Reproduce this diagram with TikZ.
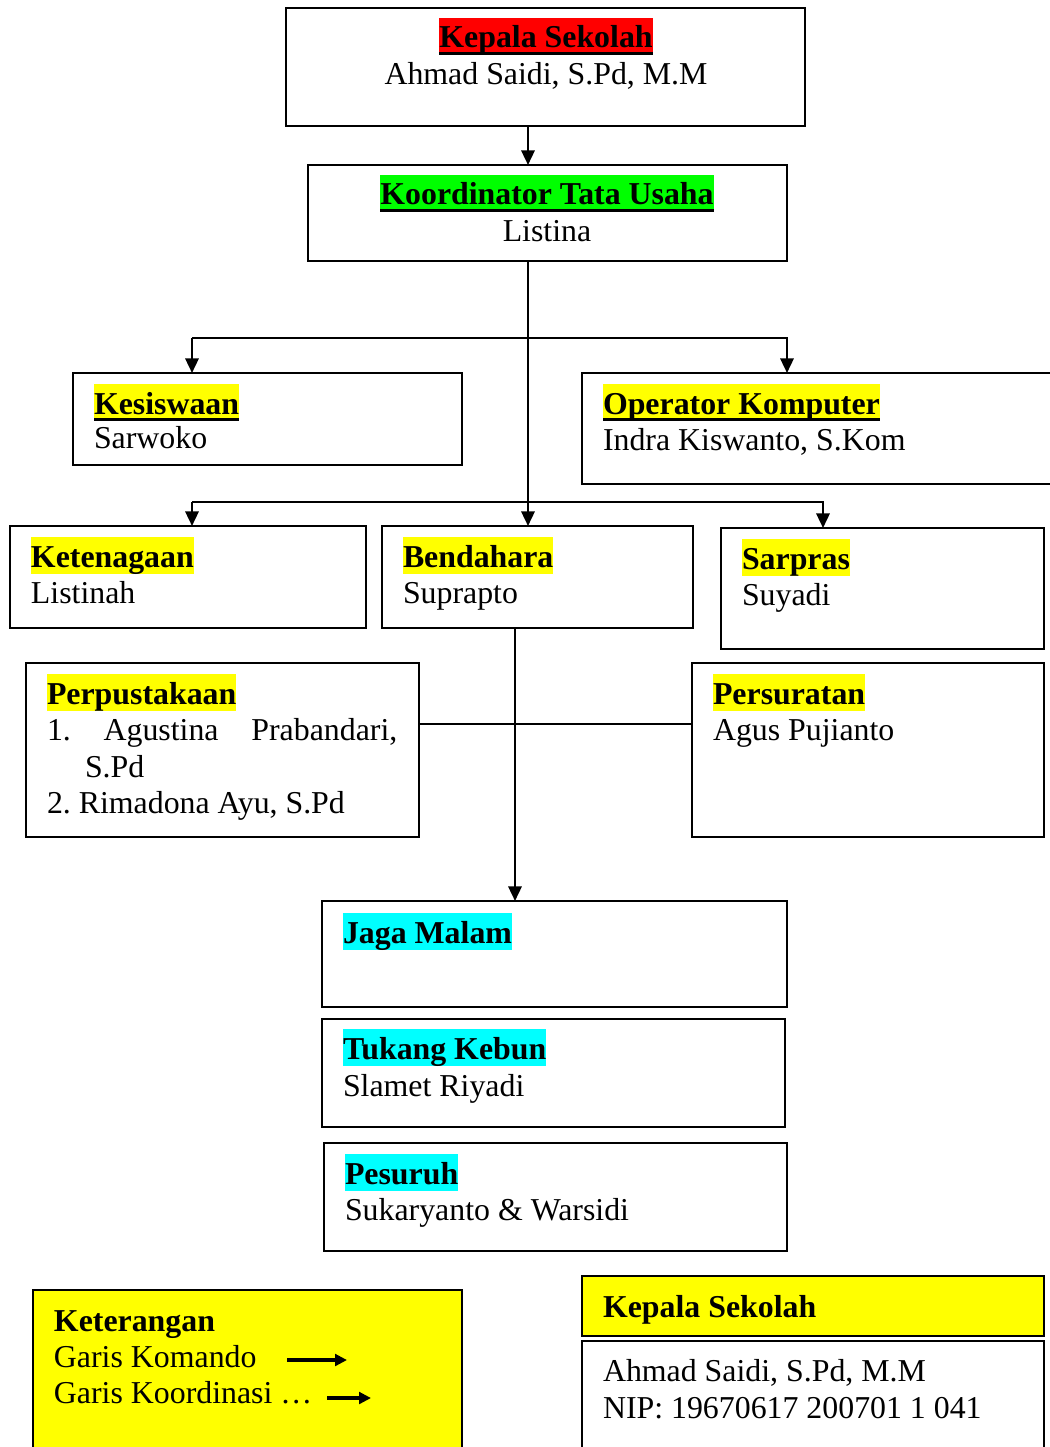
\documentclass[tikz,border=0pt]{standalone}
\usepackage{fontspec}
\setmainfont{Liberation Serif}
\usetikzlibrary{arrows.meta}
\definecolor{hlred}{RGB}{255,0,0}
\definecolor{hlgreen}{RGB}{0,255,0}
\definecolor{hlyellow}{RGB}{255,255,0}
\definecolor{hlcyan}{RGB}{0,255,255}
\newcommand\pxu{0.3768pt}
\newcommand\hlt[2]{{\setlength{\fboxsep}{0pt}\colorbox{#1}{\rule[-2.8pt]{0pt}{14pt}#2}}}
\newcommand\hltu[2]{{\setlength{\fboxsep}{0pt}\sbox0{#2}\colorbox{#1}{\rule[-2.8pt]{0pt}{14pt}\rlap{\rule[-2.8pt]{\wd0}{1.3pt}}\usebox0}}}
\newcommand\mkbox[6]{\node[bx, fill=#6, minimum width={(#4-#2)*\pxu}, minimum height={(#5-#3)*\pxu}] (#1) at (#2,#3) {};}
\tikzset{
  bx/.style={draw, line width=0.8pt, rectangle, anchor=north west, inner sep=0pt, outer sep=0pt},
  txt/.style={anchor=base west, inner sep=0pt, outer sep=0pt, font=\fontsize{12}{13.8}\selectfont\frenchspacing},
  ctxt/.style={txt, anchor=base},
  arr/.style={line width=0.9pt, -{Triangle[length=5.5pt,width=5pt]}},
  ln/.style={line width=0.9pt},
  legarr/.style={line width=1.2pt, -{Triangle[length=4.5pt,width=4.4pt]}},
}
\begin{document}
\begin{tikzpicture}[x=0.3768pt, y=-0.3768pt]
\useasboundingbox (0,0) rectangle (1049,1447);
\fill[white] (0,0) rectangle (1049,1447);
% boxes
\mkbox{kepala}{286}{8}{805}{126}{white}
\mkbox{koord}{308}{165}{787}{261}{white}
\mkbox{kes}{73}{373}{462}{465}{white}
\mkbox{op}{582}{373}{1062}{484}{white}
\mkbox{keten}{10}{526}{366}{628}{white}
\mkbox{bend}{382}{526}{693}{628}{white}
\mkbox{sarp}{721}{528}{1044}{649}{white}
\mkbox{perp}{26}{663}{419}{837}{white}
\mkbox{pers}{692}{663}{1044}{837}{white}
\mkbox{jaga}{322}{901}{787}{1007}{white}
\mkbox{tukang}{322}{1019}{785}{1127}{white}
\mkbox{pesuruh}{324}{1143}{787}{1251}{white}
\mkbox{ket}{33}{1290}{462}{1462}{hlyellow}
\mkbox{ksign}{582}{1276}{1044}{1336}{hlyellow}
\mkbox{nsign}{582}{1341}{1044}{1462}{white}
% texts
\node[ctxt] (t1) at (546,48) {\hltu{hlred}{\textbf{Kepala Sekolah}}};
\node[ctxt] (t2) at (546,85) {Ahmad Saidi, S.Pd, M.M};
\node[ctxt] (t3) at (547,205) {\hltu{hlgreen}{\textbf{Koordinator Tata Usaha}}};
\node[ctxt] (t4) at (547,242) {Listina};
\node[txt] (t5) at (94,414) {\hltu{hlyellow}{\textbf{Kesiswaan}}};
\node[txt] (t6) at (94,448) {Sarwoko};
\node[txt] (t7) at (603,414) {\hltu{hlyellow}{\textbf{Operator Komputer}}};
\node[txt] (t8) at (603,450) {Indra Kiswanto, S.Kom};
\node[txt] (t9) at (31,567) {\hlt{hlyellow}{\textbf{Ketenagaan}}};
\node[txt] (t10) at (31,603) {Listinah};
\node[txt] (t11) at (403,567) {\hlt{hlyellow}{\textbf{Bendahara}}};
\node[txt] (t12) at (403,603) {Suprapto};
\node[txt] (t13) at (742,569) {\hlt{hlyellow}{\textbf{Sarpras}}};
\node[txt] (t14) at (742,605) {Suyadi};
\node[txt] (t15) at (47,704) {\hlt{hlyellow}{\textbf{Perpustakaan}}};
\node[txt] (t16) at (47,740) {\hbox to 132pt{1.\hfill Agustina\hfill Prabandari,}};
\node[txt] (t17) at (85,777) {S.Pd};
\node[txt] (t18) at (47,813) {2. Rimadona Ayu, S.Pd};
\node[txt] (t19) at (713,704) {\hlt{hlyellow}{\textbf{Persuratan}}};
\node[txt] (t20) at (713,740) {Agus Pujianto};
\node[txt] (t21) at (343,943) {\hlt{hlcyan}{\textbf{Jaga Malam}}};
\node[txt] (t22) at (343,1059) {\hlt{hlcyan}{\textbf{Tukang Kebun}}};
\node[txt] (t23) at (343,1096) {Slamet Riyadi};
\node[txt] (t24) at (345,1184) {\hlt{hlcyan}{\textbf{Pesuruh}}};
\node[txt] (t25) at (345,1220) {Sukaryanto \& Warsidi};
\node[txt] (t26) at (54,1331) {\textbf{Keterangan}};
\node[txt] (t27) at (54,1367) {Garis Komando};
\node[txt] (t28) at (54,1403) {Garis Koordinasi …};
\node[txt] (t29) at (603,1317) {\textbf{Kepala Sekolah}};
\node[txt] (t30) at (603,1381) {Ahmad Saidi, S.Pd, M.M};
\node[txt] (t31) at (603,1418) {NIP: 19670617 200701 1 041};
% connectors
\coordinate (trunk) at (528,0);
\coordinate (b1) at (192,338);
\coordinate (b2) at (787,338);
\coordinate (c1) at (192,502);
\coordinate (c2) at (823,502);
\coordinate (dd) at (515,0);
\coordinate (ee) at (0,724);
\draw[arr] (kepala.south -| trunk) -- (koord.north -| trunk);
\draw[arr] (koord.south -| trunk) -- (bend.north -| trunk);
\draw[arr] (b1) -- (kes.north -| b1);
\draw[arr] (b1) -- (b2) -- (op.north -| b2);
\draw[arr] (c1) -- (keten.north -| c1);
\draw[arr] (c1) -- (c2) -- (sarp.north -| c2);
\draw[arr] (bend.south -| dd) -- (jaga.north -| dd);
\draw[ln] (perp.east |- ee) -- (pers.west |- ee);
% legend arrows
\coordinate (la1) at (287,1360);
\coordinate (la2) at (347,1360);
\coordinate (lb1) at (327,1398);
\coordinate (lb2) at (371,1398);
\draw[legarr] (la1) -- (la2);
\draw[legarr] (lb1) -- (lb2);
\end{tikzpicture}
\end{document}
